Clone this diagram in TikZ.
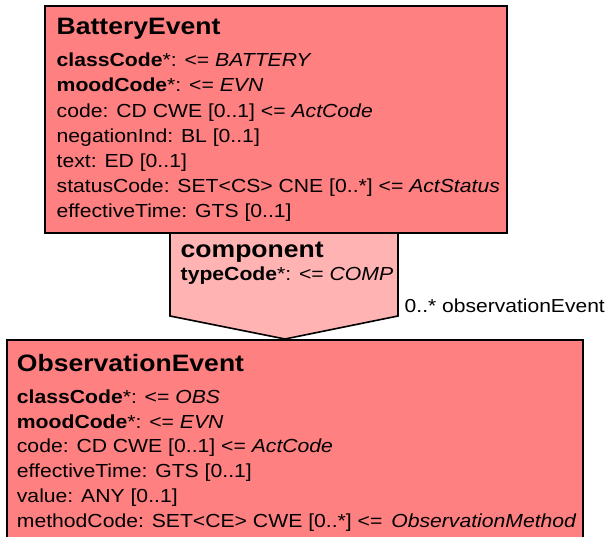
\documentclass[tikz,border=0pt]{standalone}
\usepackage{fontspec}
\setmainfont{Liberation Sans}[FakeStretch=1.12]
\usepackage{tikz}
\usetikzlibrary{positioning}
\definecolor{classRed}{HTML}{FF8080}
\definecolor{assocPink}{HTML}{FFB3B3}

\tikzset{
  classbox/.style={draw=black, line width=1.6pt, fill=classRed, rectangle, inner sep=0pt, anchor=north west},
  assocshape/.style={draw=black, line width=1.6pt, fill=assocPink, line join=miter},
  classtitle/.style={anchor=base west, inner sep=0pt, font=\fontsize{23.7}{28}\selectfont\bfseries},
  attr/.style={anchor=base west, inner sep=0pt, font=\fontsize{18.9}{23}\selectfont},
  rolelabel/.style={anchor=base west, inner sep=0pt, font=\fontsize{18.8}{22}\selectfont},
}

\begin{document}
\begin{tikzpicture}[x=1pt, y=-1pt]
                \useasboundingbox (0,0) rectangle (610,537);
                \clip (0,0) rectangle (610,537);
                % association between the two classes
                \coordinate (compLeft) at (170,232);
                \coordinate (compRight) at (398,232);
                \coordinate (compApex) at (285,339);
                \draw[assocshape] (compLeft) -- (compRight) -- ++(0,84) -- (compApex) -- ([yshift=-84pt]compLeft) -- cycle;
                % classes
                \node[classbox, minimum width=462pt, minimum height=227pt] (battery) at (44,5) {};
                \node[classbox, minimum width=576pt, minimum height=230pt] (observation) at (6,339) {};
                \node[classtitle] (batteryTitle) at ([shift={(12.5,30)}]battery.north west) {BatteryEvent};
                \foreach \txt [count=\i] in {
                    {\textbf{classCode}*: <= \textit{BATTERY}},
                    {\textbf{moodCode}*: <= \textit{EVN}},
                    {code: CD CWE [0..1] <= \textit{ActCode}},
                    {negationInd: BL [0..1]},
                    {text: ED [0..1]},
                    {statusCode: SET<CS> CNE [0..*] <= \textit{ActStatus}},
                    {effectiveTime: GTS [0..1]}}
                    \node[attr] (batteryAttr\i) at ([shift={(12.5,{36.5+25.2*\i})}]battery.north west) {\txt};
                \node[classtitle] (observationTitle) at ([shift={(10.7,32.7)}]observation.north west) {ObservationEvent};
                \foreach \txt [count=\i] in {
                    {\textbf{classCode}*: <= \textit{OBS}},
                    {\textbf{moodCode}*: <= \textit{EVN}},
                    {code: CD CWE [0..1] <= \textit{ActCode}},
                    {effectiveTime: GTS [0..1]},
                    {value: ANY [0..1]},
                    {methodCode: SET<CE> CWE [0..*] <=\hspace{3pt} \textit{ObservationMethod}}}
                    \node[attr] (observationAttr\i) at ([shift={(10.7,{39.5+24.8*\i})}]observation.north west) {\txt};
                % association texts
                \node[classtitle] (compTitle) at ([shift={(10.5,25.5)}]compLeft) {component};
                \node[attr] (compType) at ([shift={(10.5,48)}]compLeft) {\textbf{typeCode}*: <= \textit{COMP}};
                \node[rolelabel] (compRole) at ([shift={(6.5,80.5)}]compRight) {0..* observationEvent};
            \end{tikzpicture}
\end{document}
